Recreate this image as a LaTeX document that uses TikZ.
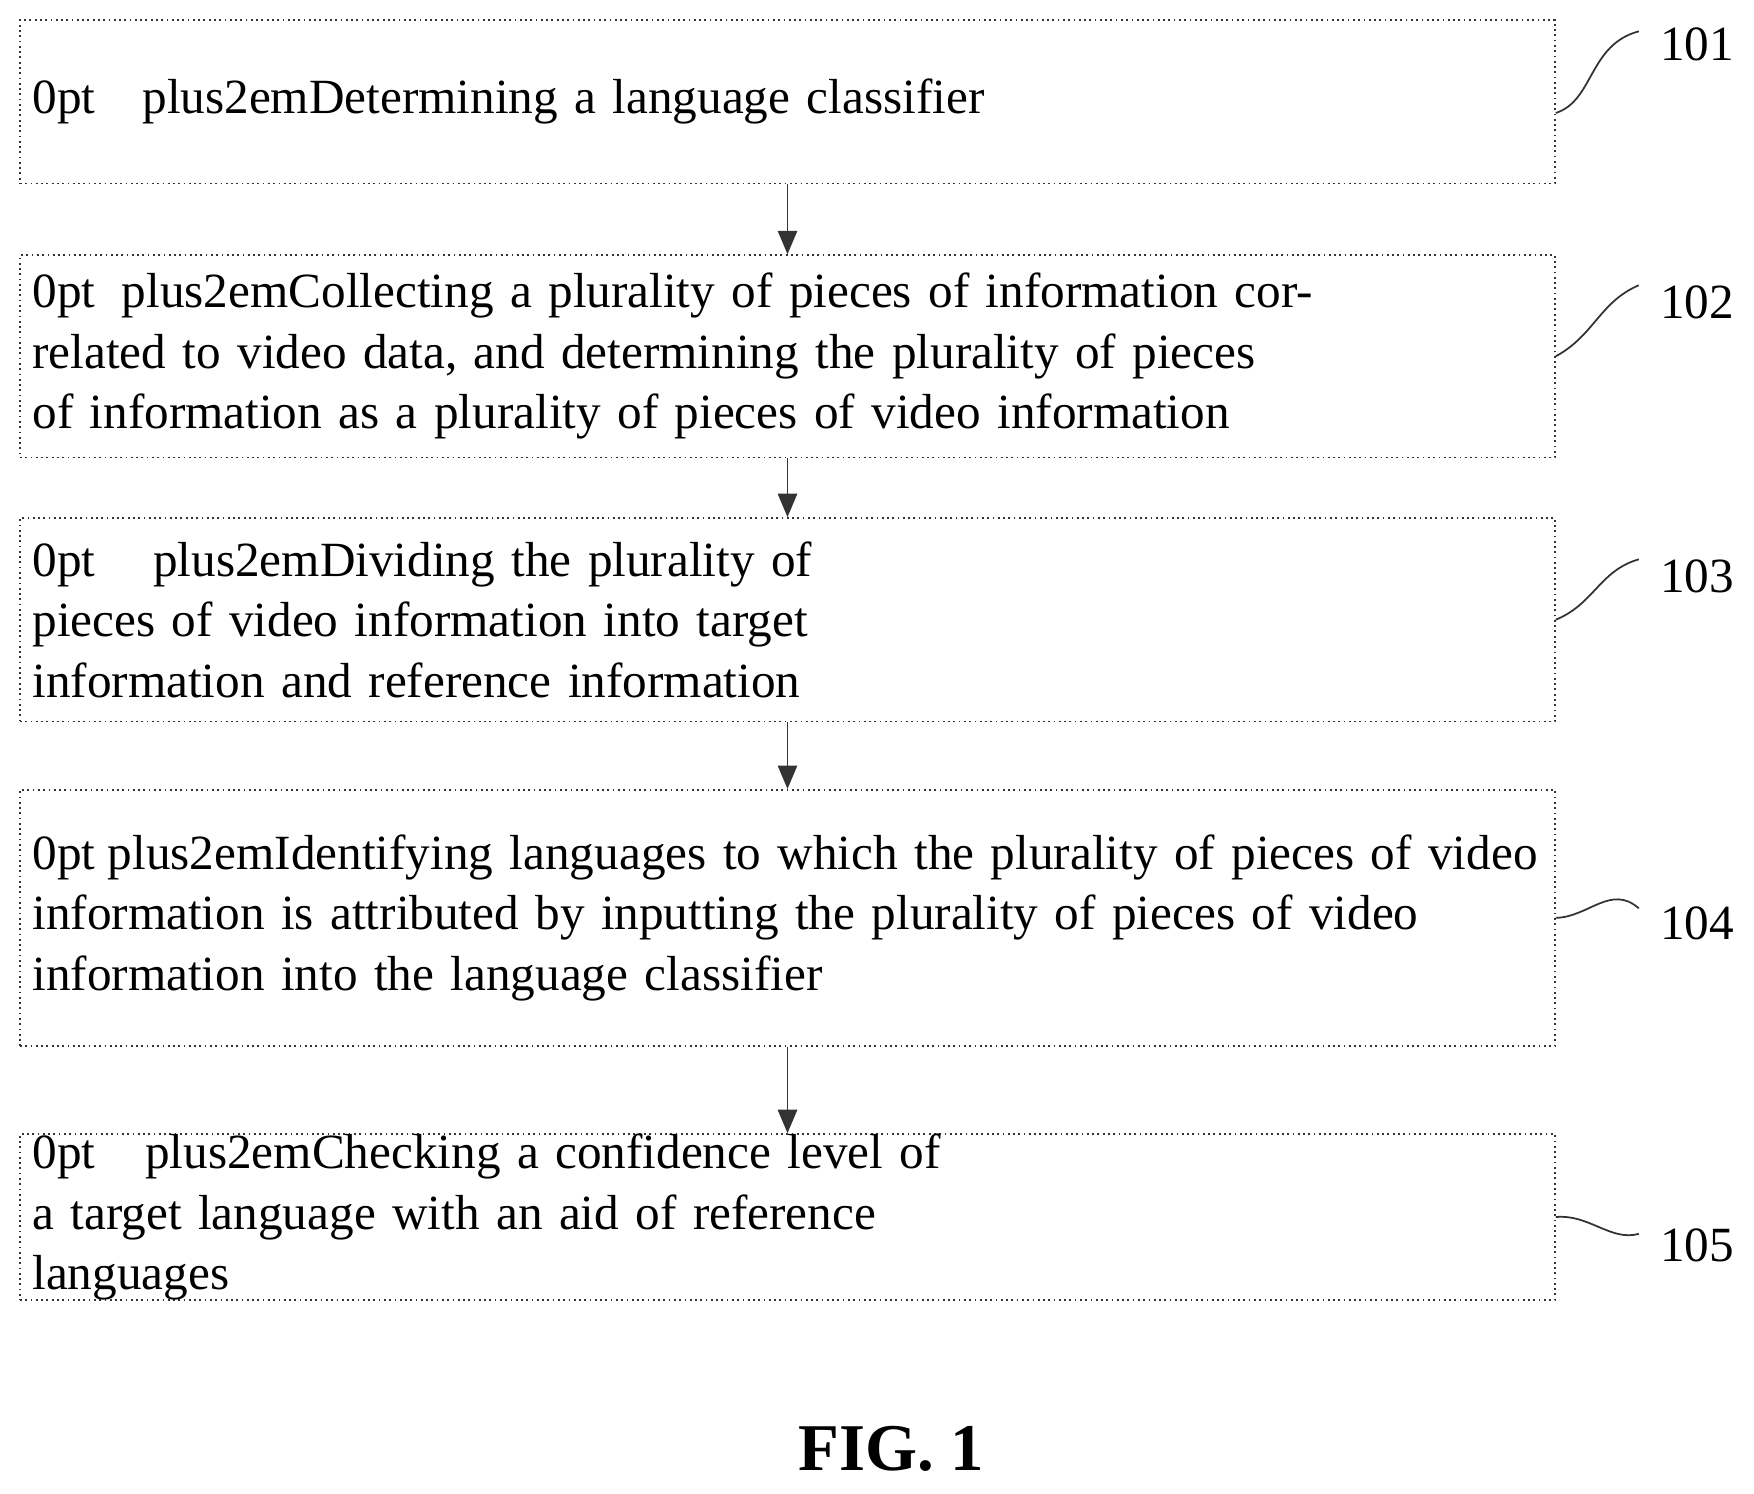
\documentclass[tikz,border=0pt]{standalone}
\usepackage{fontspec}
\setmainfont{Liberation Serif}
\usetikzlibrary{arrows}
\begin{document}
\begin{tikzpicture}[x=0.01119cm,y=-0.01119cm]
\tikzset{stepbox/.style={draw=black!80,line width=0.5pt,densely dotted,minimum width=1372*0.01119cm,text width=1350*0.01119cm,align=center,font=\fontsize{14}{17.2}\selectfont\hyphenpenalty=10000,inner sep=0pt},
  flow/.style={black!80,line width=0.5pt,-triangle 45},
  tag/.style={font=\fontsize{14}{17}\selectfont},
  wave/.style={black!80,line width=0.5pt}}
\useasboundingbox (0,0) rectangle (1568,1335);
\node[stepbox,minimum height=146*0.01119cm] (s1) at (704,91) {Determining a language classifier};
\node[stepbox,minimum height=181*0.01119cm] (s2) at (704,318.5) {Collecting a plurality of pieces of information correlated to video data, and determining the plurality of pieces of information as a plurality of pieces of video information};
\node[stepbox,minimum height=182*0.01119cm] (s3) at (704,554) {Dividing the plurality of pieces of video information into target\\ information and reference information};
\node[stepbox,minimum height=229*0.01119cm] (s4) at (704,820.5) {Identifying languages to which the plurality of pieces of video\\ information is attributed by inputting the plurality of pieces of video\\ information into the language classifier};
\node[stepbox,minimum height=148*0.01119cm] (s5) at (704,1088) {Checking a confidence level of a target language with an aid of reference\\ languages};
\foreach \a/\b in {s1/s2,s2/s3,s3/s4,s4/s5}
  \draw[flow] (\a.south) -- (\b.north);
\node[tag] (t1) at (1517,40) {101};
\node[tag] (t2) at (1517,270) {102};
\node[tag] (t3) at (1517,515) {103};
\node[tag] (t4) at (1517,825) {104};
\node[tag] (t5) at (1517,1113) {105};
\draw[wave] (s1.east)++(0,10) .. controls (1425,90) and (1420,40) .. (1465,28);
\draw[wave] (s2.east) .. controls (1425,300) and (1430,270) .. (1465,255);
\draw[wave] (s3.east) .. controls (1425,540) and (1430,510) .. (1465,500);
\draw[wave] (s4.east) .. controls (1420,820) and (1440,790) .. (1465,812);
\draw[wave] (s5.east) .. controls (1420,1085) and (1440,1110) .. (1465,1103);
\node[font=\bfseries\fontsize{19}{22}\selectfont] (fig) at (797,1295) {FIG. 1};
\end{tikzpicture}
\end{document}
